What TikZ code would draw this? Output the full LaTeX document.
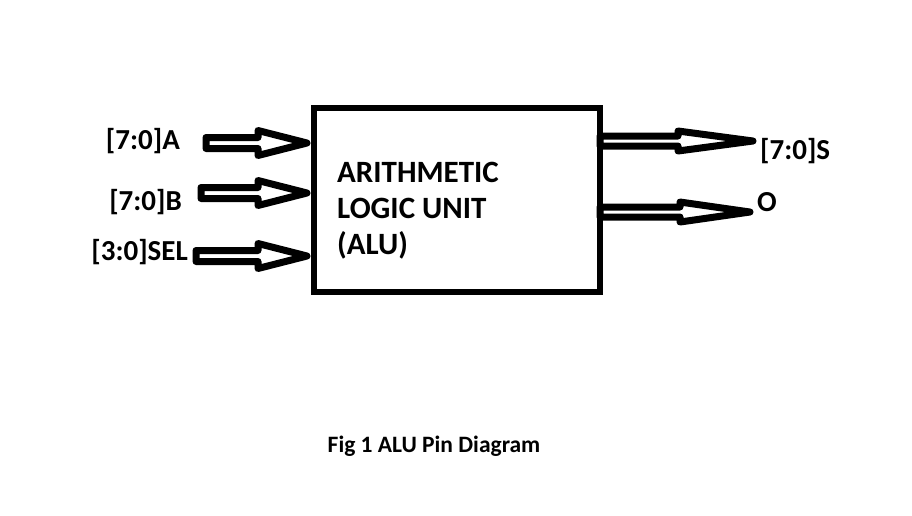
\documentclass[tikz,border=0pt]{standalone}
\usepackage{fontspec}
\setmainfont{Carlito}
\usepackage{tikz}
\usetikzlibrary{positioning}

% hollow bus arrow: start x, head x, tip x, y, shaft half, head half
\newcommand{\busarrow}[6]{%
  \draw[bus] (#1,#4-#5) -- (#2,#4-#5) -- (#2,#4-#6) -- (#3,#4)
    -- (#2,#4+#6) -- (#2,#4+#5) -- (#1,#4+#5) -- cycle;}

\tikzset{
  bus/.style={line width=7pt, fill=white, line join=round},
  pin/.style={font=\bfseries\fontsize{29}{32}\selectfont, inner sep=0pt},
}

\begin{document}
\begin{tikzpicture}[x=1pt, y=-1pt]
    \useasboundingbox[fill=white] (0,0) rectangle (912,515);
    % ALU block
    \draw[line width=6pt] (314,108) rectangle (600,292);
    \node[align=left, anchor=base west, inner sep=0pt,
          font=\bfseries\fontsize{31}{36}\selectfont] (alu) at (337,254)
          {ARITHMETIC\\LOGIC UNIT\\(ALU)};
    % inputs
    \busarrow{206}{258}{307}{143}{5.5}{12.5}
    \busarrow{201}{258}{307}{193}{5.5}{12.5}
    \busarrow{196}{258}{307}{256}{5.5}{12.5}
    \node[pin, anchor=east] (ina) at (180,141) {[7:0]A};
    \node[pin, anchor=east] (inb) at (182,202) {[7:0]B};
    \node[pin, anchor=east] (insel) at (188,252) {[3:0]SEL};
    % outputs
    \busarrow{600}{678}{753}{141}{5}{10}
    \busarrow{600}{680}{750}{212}{5}{10}
    \node[pin, anchor=west] (outs) at (760,151) {[7:0]S};
    \node[pin, anchor=west] (outo) at (757,202) {O};
    % caption
    \node[font=\bfseries\fontsize{23.5}{26}\selectfont] (cap) at (434,446) {Fig 1 ALU Pin Diagram};
\end{tikzpicture}
\end{document}
